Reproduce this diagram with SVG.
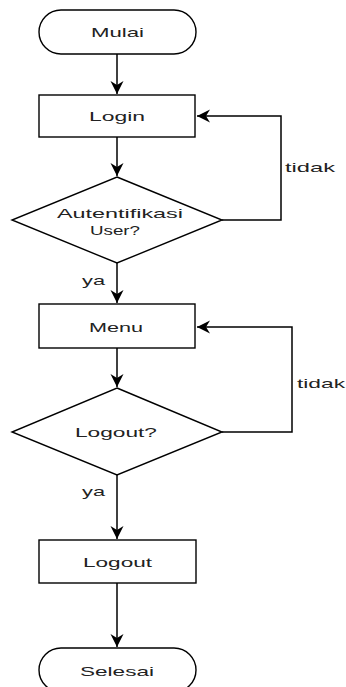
<svg xmlns="http://www.w3.org/2000/svg" width="346" height="687" viewBox="0 0 346 687">
<defs>
<style>
.shape{fill:#fff;stroke:#000;stroke-width:1.4}
.edge{fill:none;stroke:#000;stroke-width:1.5}
.t{font-family:"Liberation Sans",Arial,sans-serif;font-size:13px;fill:#222;text-anchor:middle}
.l{font-family:"Liberation Sans",Arial,sans-serif;font-size:13px;fill:#222}
</style>
<marker id="arr" markerUnits="userSpaceOnUse" markerWidth="16" markerHeight="16" viewBox="-14 -8 16 16" refX="0" refY="0" orient="auto">
<path d="M0,0 L-13,-6.5 L-9,0 L-13,6.5 Z" fill="#000"/>
</marker>
</defs>
<rect width="346" height="687" fill="#fff"/>
<g id="connectors">
<line class="edge" x1="117" y1="54" x2="117" y2="94" marker-end="url(#arr)"/>
<line class="edge" x1="117" y1="137" x2="117" y2="176" marker-end="url(#arr)"/>
<polyline class="edge" points="222,220 281,220 281,116 197,116" marker-end="url(#arr)"/>
<text class="l" x="285" y="172" textLength="50" lengthAdjust="spacingAndGlyphs">tidak</text>
<line class="edge" x1="117" y1="263" x2="117" y2="303" marker-end="url(#arr)"/>
<text class="l" x="82" y="285" textLength="23" lengthAdjust="spacingAndGlyphs">ya</text>
<line class="edge" x1="117" y1="348" x2="117" y2="387" marker-end="url(#arr)"/>
<polyline class="edge" points="222,432 292,432 292,327 197,327" marker-end="url(#arr)"/>
<text class="l" x="297" y="388" textLength="48" lengthAdjust="spacingAndGlyphs">tidak</text>
<line class="edge" x1="117" y1="475" x2="117" y2="539" marker-end="url(#arr)"/>
<text class="l" x="82" y="496" textLength="23" lengthAdjust="spacingAndGlyphs">ya</text>
<line class="edge" x1="117" y1="583" x2="117" y2="647" marker-end="url(#arr)"/>
</g>
<g id="mulai">
<rect class="shape" x="39" y="10" width="157" height="44" rx="22" ry="22"/>
<text class="t" x="117.5" y="37" textLength="53" lengthAdjust="spacingAndGlyphs">Mulai</text>
</g>
<g id="login">
<rect class="shape" x="39" y="95" width="156" height="42"/>
<text class="t" x="117" y="121" textLength="56" lengthAdjust="spacingAndGlyphs">Login</text>
</g>
<g id="autentifikasi">
<polygon class="shape" points="117,177 222,220 117,263 12,220"/>
<text class="t" x="120" y="218" textLength="126" lengthAdjust="spacingAndGlyphs">Autentifikasi</text>
<text class="t" x="115" y="235" textLength="50" lengthAdjust="spacingAndGlyphs">User?</text>
</g>
<g id="menu">
<rect class="shape" x="39" y="304" width="156" height="44"/>
<text class="t" x="116" y="332" textLength="54" lengthAdjust="spacingAndGlyphs">Menu</text>
</g>
<g id="logout-q">
<polygon class="shape" points="117,388 222,432 117,475 12,432"/>
<text class="t" x="116" y="437" textLength="82" lengthAdjust="spacingAndGlyphs">Logout?</text>
</g>
<g id="logout">
<rect class="shape" x="39" y="540" width="157" height="43"/>
<text class="t" x="117.5" y="567" textLength="69" lengthAdjust="spacingAndGlyphs">Logout</text>
</g>
<g id="selesai">
<rect class="shape" x="39" y="648" width="157" height="44" rx="22" ry="22"/>
<text class="t" x="117" y="676" textLength="74" lengthAdjust="spacingAndGlyphs">Selesai</text>
</g>
</svg>
